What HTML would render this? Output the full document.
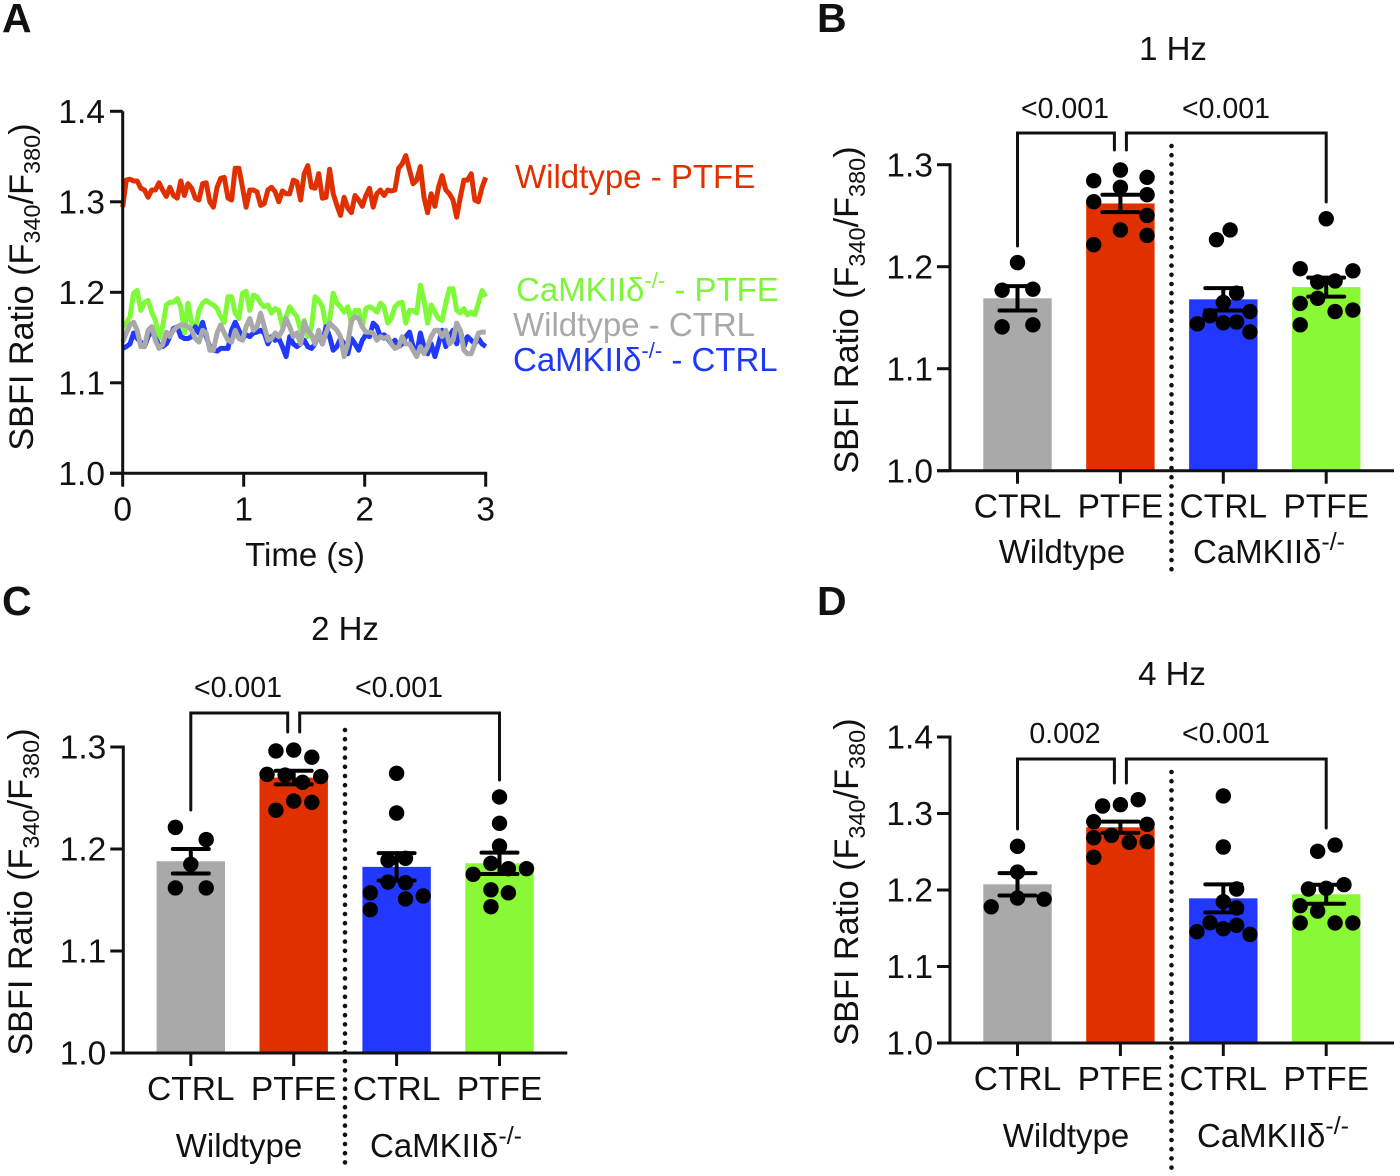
<!DOCTYPE html>
<html lang="en">
<head>
<meta charset="utf-8">
<title>SBFI Ratio Figure</title>
<style>
html,body{margin:0;padding:0;background:#fff;}
svg{display:block;}
text{font-family:"Liberation Sans",Arial,sans-serif;fill:#111;}
</style>
</head>
<body>
<svg id="fig" xmlns="http://www.w3.org/2000/svg" width="1400" height="1176" viewBox="0 0 1400 1176">
<rect x="0" y="0" width="1400" height="1176" fill="#fff"/>
<text x="2" y="32" font-size="41" font-weight="bold">A</text>
<text x="817" y="32" font-size="41" font-weight="bold">B</text>
<text x="2" y="615" font-size="41" font-weight="bold">C</text>
<text x="817" y="615" font-size="41" font-weight="bold">D</text>

<text transform="translate(33,287) rotate(-90)" text-anchor="middle" font-size="34.2">SBFI Ratio (F<tspan font-size="23.5" dy="7">340</tspan><tspan dy="-7">/F</tspan><tspan font-size="23.5" dy="7">380</tspan><tspan dy="-7">)</tspan></text>
<text transform="translate(858,310) rotate(-90)" text-anchor="middle" font-size="34.2">SBFI Ratio (F<tspan font-size="23.5" dy="7">340</tspan><tspan dy="-7">/F</tspan><tspan font-size="23.5" dy="7">380</tspan><tspan dy="-7">)</tspan></text>
<text transform="translate(32,892) rotate(-90)" text-anchor="middle" font-size="34.2">SBFI Ratio (F<tspan font-size="23.5" dy="7">340</tspan><tspan dy="-7">/F</tspan><tspan font-size="23.5" dy="7">380</tspan><tspan dy="-7">)</tspan></text>
<text transform="translate(858,882) rotate(-90)" text-anchor="middle" font-size="34.2">SBFI Ratio (F<tspan font-size="23.5" dy="7">340</tspan><tspan dy="-7">/F</tspan><tspan font-size="23.5" dy="7">380</tspan><tspan dy="-7">)</tspan></text>

<text x="305" y="566" text-anchor="middle" font-size="33">Time (s)</text>
<text x="515" y="188" font-size="33" style="fill:#E03000">Wildtype - PTFE</text>
<text x="516" y="301" font-size="33" style="fill:#7CF53A">CaMKIIδ<tspan font-size="22" dy="-13">-/-</tspan><tspan dy="13"> - PTFE</tspan></text>
<text x="513" y="336" font-size="33" style="fill:#A9A9A9">Wildtype - CTRL</text>
<text x="513" y="371" font-size="33" style="fill:#1F38F5">CaMKIIδ<tspan font-size="22" dy="-13">-/-</tspan><tspan dy="13"> - CTRL</tspan></text>

<text x="1173" y="60" text-anchor="middle" font-size="33">1 Hz</text>
<text x="345" y="640" text-anchor="middle" font-size="33">2 Hz</text>
<text x="1172" y="685" text-anchor="middle" font-size="33">4 Hz</text>

<text x="1065" y="118" text-anchor="middle" font-size="28.5">&lt;0.001</text>
<text x="1226" y="118" text-anchor="middle" font-size="28.5">&lt;0.001</text>
<text x="238" y="697" text-anchor="middle" font-size="28.5">&lt;0.001</text>
<text x="399" y="697" text-anchor="middle" font-size="28.5">&lt;0.001</text>
<text x="1065" y="743" text-anchor="middle" font-size="28.5">0.002</text>
<text x="1226" y="743" text-anchor="middle" font-size="28.5">&lt;0.001</text>

<text x="1062" y="563" text-anchor="middle" font-size="33">Wildtype</text>
<text x="1193" y="563" font-size="33">CaMKIIδ<tspan font-size="25" dy="-13">-/-</tspan></text>
<text x="239" y="1157" text-anchor="middle" font-size="33">Wildtype</text>
<text x="370" y="1157" font-size="33">CaMKIIδ<tspan font-size="25" dy="-13">-/-</tspan></text>
<text x="1066" y="1147" text-anchor="middle" font-size="33">Wildtype</text>
<text x="1197" y="1147" font-size="33">CaMKIIδ<tspan font-size="25" dy="-13">-/-</tspan></text>
</svg>

<script>
// ---------- Panel A data ----------
const traceTicksX = [0, 1, 2, 3];
const traceTicksY = [1.0, 1.1, 1.2, 1.3, 1.4];
const traceWildtypePTFE = [1.294,1.324,1.325,1.323,1.323,1.315,1.313,1.305,1.313,1.313,1.321,1.313,1.306,1.316,1.307,1.304,1.323,1.307,1.320,1.315,1.304,1.302,1.320,1.321,1.300,1.294,1.316,1.326,1.327,1.304,1.302,1.337,1.337,1.316,1.294,1.313,1.313,1.311,1.296,1.298,1.313,1.316,1.311,1.300,1.312,1.309,1.309,1.324,1.322,1.302,1.331,1.340,1.316,1.315,1.331,1.304,1.305,1.336,1.309,1.296,1.285,1.305,1.293,1.288,1.307,1.302,1.295,1.307,1.315,1.294,1.309,1.313,1.307,1.313,1.312,1.313,1.337,1.342,1.351,1.335,1.320,1.324,1.339,1.305,1.288,1.309,1.295,1.316,1.329,1.313,1.309,1.302,1.283,1.305,1.324,1.324,1.331,1.302,1.300,1.316,1.327];
const traceCamkiiPTFE = [1.161,1.166,1.173,1.199,1.202,1.180,1.189,1.191,1.178,1.169,1.149,1.162,1.186,1.189,1.189,1.193,1.184,1.155,1.188,1.166,1.158,1.180,1.188,1.191,1.188,1.186,1.182,1.173,1.167,1.195,1.195,1.177,1.171,1.199,1.201,1.180,1.197,1.195,1.188,1.184,1.186,1.177,1.182,1.180,1.162,1.173,1.184,1.178,1.173,1.158,1.169,1.151,1.162,1.195,1.191,1.184,1.162,1.169,1.199,1.188,1.184,1.178,1.184,1.166,1.180,1.180,1.162,1.182,1.184,1.182,1.178,1.188,1.184,1.166,1.171,1.184,1.188,1.189,1.166,1.180,1.180,1.177,1.208,1.191,1.166,1.186,1.178,1.171,1.169,1.188,1.204,1.204,1.180,1.177,1.182,1.175,1.178,1.175,1.188,1.202,1.195];
const traceCamkiiCTRL = [1.138,1.140,1.143,1.155,1.149,1.145,1.140,1.151,1.158,1.149,1.142,1.140,1.143,1.151,1.160,1.162,1.151,1.149,1.149,1.151,1.162,1.155,1.167,1.151,1.140,1.136,1.135,1.138,1.138,1.138,1.158,1.167,1.158,1.149,1.153,1.151,1.155,1.156,1.158,1.155,1.143,1.151,1.147,1.149,1.140,1.129,1.151,1.143,1.140,1.143,1.147,1.140,1.138,1.143,1.155,1.143,1.162,1.151,1.136,1.140,1.149,1.143,1.132,1.149,1.143,1.136,1.147,1.153,1.151,1.166,1.162,1.151,1.153,1.149,1.143,1.147,1.140,1.143,1.151,1.156,1.140,1.132,1.155,1.140,1.132,1.143,1.129,1.143,1.158,1.140,1.151,1.158,1.143,1.158,1.140,1.151,1.147,1.143,1.149,1.143,1.140];
const traceWildtypeCTRL = [1.145,1.155,1.164,1.167,1.158,1.140,1.140,1.158,1.162,1.147,1.138,1.142,1.156,1.151,1.158,1.162,1.164,1.164,1.162,1.158,1.149,1.145,1.158,1.155,1.136,1.136,1.155,1.164,1.155,1.147,1.145,1.158,1.149,1.147,1.162,1.171,1.158,1.162,1.177,1.162,1.147,1.149,1.155,1.151,1.158,1.171,1.162,1.151,1.155,1.143,1.167,1.158,1.153,1.143,1.158,1.143,1.155,1.166,1.162,1.158,1.151,1.129,1.143,1.169,1.173,1.171,1.162,1.156,1.156,1.155,1.147,1.151,1.149,1.151,1.143,1.138,1.140,1.151,1.143,1.143,1.136,1.129,1.140,1.132,1.140,1.151,1.158,1.158,1.151,1.158,1.143,1.147,1.166,1.158,1.136,1.132,1.132,1.143,1.155,1.156,1.156];

// ---------- Bar panel data ----------
const barCategories = ["CTRL", "PTFE", "CTRL", "PTFE"];
const barTicksB = [1.0, 1.1, 1.2, 1.3];
const barTicksC = [1.0, 1.1, 1.2, 1.3];
const barTicksD = [1.0, 1.1, 1.2, 1.3, 1.4];

const meansB = [1.169, 1.262, 1.168, 1.180];
const semB = [0.012, 0.0085, 0.011, 0.0093];
const dotsB = [
  [1.204,1.177,1.178,1.141,1.143],
  [1.2948,1.2843,1.2876,1.2778,1.2706,1.2637,1.2503,1.236,1.2307,1.2216],
  [1.236,1.2265,1.174,1.165,1.156,1.152,1.1457,1.145,1.144,1.136],
  [1.247,1.198,1.196,1.185,1.186,1.164,1.169,1.1575,1.156,1.143]
];
const jitterB = [
  [0,-.45,.45,-.45,.45],
  [0,-.78,.78,0,.78,-.78,.78,0,.78,-.78],
  [.2,-.2,.39,0,.78,-.39,.39,0,-.76,.78],
  [0,-.76,.78,-.25,.26,-.76,-.25,.78,.26,-.76]
];

const meansC = [1.188, 1.27, 1.1825, 1.186];
const semC = [0.012, 0.0067, 0.0134, 0.0105];
const dotsC = [
  [1.2212,1.2092,1.185,1.1618,1.1618],
  [1.2961,1.297,1.290,1.2732,1.2725,1.271,1.2654,1.247,1.2458,1.238],
  [1.2742,1.2353,1.1889,1.1909,1.1676,1.167,1.157,1.154,1.151,1.1405],
  [1.251,1.2252,1.203,1.186,1.1807,1.1807,1.1752,1.16,1.157,1.1434]
];
const jitterC = [
  [-.45,.45,0,-.45,.45],
  [-.52,0,.53,-.78,-.25,.79,.26,0,.53,-.52],
  [0,0,-.25,.26,-.25,.26,-.77,.78,.26,-.77],
  [0,0,0,-.25,.26,.79,-.77,-.25,.26,-.25]
];

const meansD = [1.2074, 1.282, 1.1891, 1.1944];
const semD = [0.0146, 0.0074, 0.0183, 0.0124];
const dotsD = [
  [1.2571,1.2235,1.1895,1.178,1.188],
  [1.318,1.3115,1.3098,1.2893,1.2859,1.2684,1.2715,1.2623,1.2632,1.2427],
  [1.3229,1.2562,1.2013,1.1847,1.1765,1.1573,1.1538,1.1494,1.1455,1.142],
  [1.2588,1.2506,1.2069,1.2013,1.2022,1.1795,1.1725,1.1569,1.1569,1.1569]
];
const jitterD = [
  [0,0,0,-.77,.78],
  [.52,0,-.52,-.78,.78,-.78,-.26,.26,.78,-.78],
  [0,0,.39,0,.39,-.39,.39,0,-.77,.78],
  [.26,-.25,.52,-.52,0,-.76,-.25,-.76,.26,.78]
];

const barColors = ["#A9A9A9", "#E03000", "#2238FF", "#8AF935"];

const NS = "http://www.w3.org/2000/svg";
const fig = document.getElementById("fig");
function mk(tag, attrs, parent) {
  const e = document.createElementNS(NS, tag);
  for (const k in attrs) e.setAttribute(k, attrs[k]);
  (parent || fig).appendChild(e);
  return e;
}
function axisLine(x1, y1, x2, y2, w, parent) {
  return mk("line", {x1: x1, y1: y1, x2: x2, y2: y2, stroke: "#111", "stroke-width": w}, parent);
}

// ---------- Panel A ----------
(function drawTraces() {
  const g = mk("g", {});
  
  
  const sx = t => 122.7 + t * 121;
  const sy = v => 473.3 - (v - 1) * 905;
  function trace(values, color, name) {
    const d = values.map((v, i) => (i ? "L" : "M") + sx(i / (values.length - 1) * 3).toFixed(1) + " " + sy(v).toFixed(1)).join("");
    const p = mk("path", {d: d, fill: "none", stroke: color, "stroke-width": 5, "stroke-linejoin": "round"}, g);
    
    
  }
  trace(traceWildtypePTFE, "#E03000", "trace-wildtype-ptfe");
  trace(traceCamkiiPTFE, "#7FFA38", "trace-camkii-ptfe");
  trace(traceCamkiiCTRL, "#2238FF", "trace-camkii-ctrl");
  trace(traceWildtypeCTRL, "#A9A9A9", "trace-wildtype-ctrl");

  const yAxis = axisLine(122.7, sy(1.4), 122.7, 473.3, 3, g);
  
  
  const xAxis = axisLine(110, 473.3, sx(3) + 1.5, 473.3, 3, g);
  
  
  traceTicksY.forEach(v => {
    const t = axisLine(110, sy(v), 122.7, sy(v), 3, g);
    
    
    const l = mk("text", {x: 105, y: sy(v) + 11.7, "text-anchor": "end", "font-size": 33.5}, g);
    l.textContent = v.toFixed(1);
    
    
  });
  traceTicksX.forEach(v => {
    const t = axisLine(sx(v), 473.3, sx(v), 486.7, 3, g);
    
    
    const l = mk("text", {x: sx(v), y: 520.7, "text-anchor": "middle", "font-size": 33.5}, g);
    l.textContent = String(v);
    
    
  });
})();

// ---------- Bar panels ----------
function drawBars(id, means, sem, dots, jitter, ticks, geo) {
  const g = mk("g", {});
  
  
  const sy = v => geo.base - (v - 1) * geo.pxPerUnit;
  const sx = i => geo.first + i * 102.9;
  const halfBar = 34.2;

  means.forEach((m, i) => {
    const r = mk("rect", {x: sx(i) - halfBar, y: sy(m), width: halfBar * 2, height: geo.base - sy(m), fill: barColors[i]}, g);
    
    
  });

  const yAxis = axisLine(geo.axis, sy(ticks[ticks.length - 1]) - 1.5, geo.axis, geo.base, 3, g);
  
  
  const xAxis = axisLine(geo.axis - 13, geo.base, geo.axis + 444, geo.base, 3, g);
  
  

  ticks.forEach(v => {
    const t = axisLine(geo.axis - 13, sy(v), geo.axis, sy(v), 3, g);
    
    
    const l = mk("text", {x: geo.axis - 17, y: sy(v) + 11.7, "text-anchor": "end", "font-size": 33.5}, g);
    l.textContent = v.toFixed(1);
    
    
  });

  barCategories.forEach((c, i) => {
    const t = axisLine(sx(i), geo.base, sx(i), geo.base + 13, 3, g);
    
    
    const l = mk("text", {x: sx(i), y: geo.base + 47, "text-anchor": "middle", "font-size": 33.5}, g);
    l.textContent = c;
    
    
  });

  const sep = mk("line", {x1: geo.sep, y1: geo.sepTop, x2: geo.sep, y2: geo.sepBottom, stroke: "#111", "stroke-width": 4.6, "stroke-linecap": "round", "stroke-dasharray": "0 9.2"}, g);
  
  

  dots.forEach((arr, i) => {
    arr.forEach((v, j) => {
      const c = mk("circle", {cx: sx(i) + jitter[i][j] * halfBar, cy: sy(v), r: 7.7, fill: "#000"}, g);
      
      
    });
  });

  means.forEach((m, i) => {
    const e = mk("path", {
      d: "M" + (sx(i) - 18) + " " + sy(m + sem[i]) + "H" + (sx(i) + 18) +
         "M" + (sx(i) - 18) + " " + sy(m - sem[i]) + "H" + (sx(i) + 18) +
         "M" + sx(i) + " " + sy(m + sem[i]) + "V" + sy(m - sem[i]),
      fill: "none", stroke: "#000", "stroke-width": 4, "stroke-linecap": "round"}, g);
    
    
  });

  const b1 = mk("path", {d: "M" + sx(0) + " " + geo.leftLeg + "V" + geo.bracket + "H" + (sx(1) - 6) + "V" + geo.midLeg, fill: "none", stroke: "#111", "stroke-width": 3, "stroke-linecap": "round", "stroke-linejoin": "miter"}, g);
  
  
  const b2 = mk("path", {d: "M" + (sx(1) + 6) + " " + geo.midLeg + "V" + geo.bracket + "H" + sx(3) + "V" + geo.rightLeg, fill: "none", stroke: "#111", "stroke-width": 3, "stroke-linecap": "round", "stroke-linejoin": "miter"}, g);
  
  
}

drawBars("b", meansB, semB, dotsB, jitterB, barTicksB,
  {base: 470.7, pxPerUnit: 1020, axis: 950, first: 1017.5, sep: 1171.5, sepTop: 146, sepBottom: 574, bracket: 133, leftLeg: 246, midLeg: 150, rightLeg: 202});
drawBars("c", meansC, semC, dotsC, jitterC, barTicksC,
  {base: 1053, pxPerUnit: 1020, axis: 123.3, first: 190.8, sep: 345, sepTop: 730, sepBottom: 1168, bracket: 713, leftLeg: 810, midLeg: 732, rightLeg: 780});
drawBars("d", meansD, semD, dotsD, jitterD, barTicksD,
  {base: 1043, pxPerUnit: 765, axis: 950, first: 1017.5, sep: 1171.5, sepTop: 772, sepBottom: 1168, bracket: 759, leftLeg: 829, midLeg: 783, rightLeg: 828});
</script>
</body>
</html>
